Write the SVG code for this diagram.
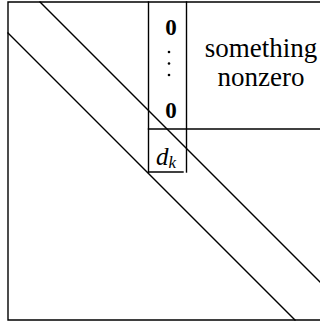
<svg xmlns="http://www.w3.org/2000/svg" width="320" height="324" viewBox="0 0 320 324">
<style>
.ln{stroke:#000;stroke-width:1.4;fill:none;stroke-linecap:square}
text{fill:#000}
.b{font-weight:bold}
.i{font-style:italic}
</style>
<rect width="320" height="324" fill="#fff"/>
<g id="matrix">
<path class="ln" d="M330,2 H8 V320 H330"/>
</g>
<g id="connectors">
<line class="ln" x1="40" y1="2" x2="330" y2="292"/>
<line class="ln" x1="8" y1="33" x2="295" y2="320"/>
</g>
<g id="column">
<line class="ln" x1="148.5" y1="2" x2="148.5" y2="172"/>
<line class="ln" x1="186.5" y1="2" x2="186.5" y2="172"/>
<line class="ln" x1="148.5" y1="129" x2="330" y2="129"/>
<line class="ln" x1="148.5" y1="172" x2="183" y2="172"/>
<text class="b" x="171" y="35" font-size="23" text-anchor="middle" font-family="Liberation Serif, serif">0</text>
<circle cx="169" cy="52" r="1.3"/>
<circle cx="169" cy="63.5" r="1.3"/>
<circle cx="169" cy="75" r="1.3"/>
<text class="b" x="171" y="118" font-size="23" text-anchor="middle" font-family="Liberation Serif, serif">0</text>
</g>
<g id="dk">
<text class="i" x="156" y="165" font-size="25" font-family="Liberation Serif, serif">d<tspan font-size="17" dy="3">k</tspan></text>
</g>
<g id="nonzero">
<text x="261" y="57" font-size="27" text-anchor="middle" font-family="Liberation Serif, serif">something</text>
<text x="261" y="86" font-size="27" text-anchor="middle" font-family="Liberation Serif, serif">nonzero</text>
</g>
</svg>
